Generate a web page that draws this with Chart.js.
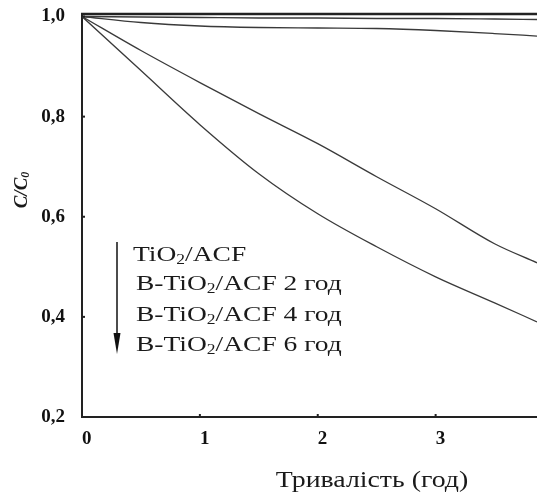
<!DOCTYPE html>
<html><head><meta charset="utf-8">
<script src="https://cdn.jsdelivr.net/npm/chart.js@4.4.1/dist/chart.umd.min.js"></script>
<style>html,body{margin:0;padding:0;background:#fff;} #wrap{position:relative;width:537px;height:495px;}</style>
</head><body><div id="wrap"><canvas id="c" width="537" height="495"></canvas></div>
<script>
// ---- data ----
const hours     = [0, 0.5, 1, 1.5, 2, 2.5, 3, 3.5, 3.86];
const tio2      = [1.0, 0.999, 0.998, 0.997, 0.997, 0.996, 0.996, 0.995, 0.994];
const bTio2_2h  = [1.0, 0.988, 0.981, 0.978, 0.977, 0.976, 0.972, 0.966, 0.961];
const bTio2_4h  = [1.0, 0.932, 0.868, 0.806, 0.746, 0.680, 0.616, 0.546, 0.508];
const bTio2_6h  = [1.0, 0.892, 0.784, 0.686, 0.606, 0.540, 0.480, 0.428, 0.390];
const seriesNames = ['TiO₂/ACF', 'B-TiO₂/ACF 2 год', 'B-TiO₂/ACF 4 год', 'B-TiO₂/ACF 6 год'];
const xTicks = [0, 1, 2, 3];
const xTickLabels = ['0', '1', '2', '3'];
const yTicks = [0.2, 0.4, 0.6, 0.8, 1.0];
const yTickLabels = ['0,2', '0,4', '0,6', '0,8', '1,0'];
const xTitle = 'Тривалість (год)';
const yTitle = 'C/C₀';

const SERIF = '"Liberation Serif", "Times New Roman", serif';
const SUBS = '₀₁₂₃₄₅₆₇₈₉';

function richParts(text) {
  const parts = [];
  for (const ch of text) {
    const sub = SUBS.indexOf(ch) >= 0;
    const c = sub ? String(SUBS.indexOf(ch)) : ch;
    if (parts.length && parts[parts.length - 1].sub === sub) parts[parts.length - 1].t += c;
    else parts.push({ t: c, sub });
  }
  return parts;
}
function drawRich(ctx, text, x, y, size, style, align, sx) {
  const parts = richParts(text);
  const fnt = (sub) => style + ' ' + (sub ? Math.round(size * 0.62) : size) + 'px ' + SERIF;
  let w = 0;
  parts.forEach(p => { ctx.font = fnt(p.sub); p.w = ctx.measureText(p.t).width; w += p.w; });
  ctx.save();
  ctx.translate(x, y);
  ctx.scale(sx, 1);
  let cx = align === 'center' ? -w / 2 : 0;
  ctx.textAlign = 'left';
  ctx.textBaseline = 'alphabetic';
  parts.forEach(p => {
    ctx.font = fnt(p.sub);
    ctx.fillText(p.t, cx, p.sub ? size * 0.12 : 0);
    cx += p.w;
  });
  ctx.restore();
}

const decor = {
  id: 'decor',
  afterDraw(chart) {
    const ctx = chart.ctx, a = chart.chartArea;
    const xs = chart.scales.x, ys = chart.scales.y;
    ctx.save();
    // top frame line
    ctx.strokeStyle = '#222'; ctx.lineWidth = 2.5;
    ctx.beginPath(); ctx.moveTo(a.left - 1, a.top); ctx.lineTo(a.right, a.top); ctx.stroke();
    // small inward ticks
    ctx.lineWidth = 2;
    yTicks.forEach(v => { if (v === ys.min) return; const py = ys.getPixelForValue(v);
      ctx.beginPath(); ctx.moveTo(a.left, py); ctx.lineTo(a.left + 3, py); ctx.stroke(); });
    xTicks.forEach(v => { if (v === xs.min) return; const px = xs.getPixelForValue(v);
      ctx.beginPath(); ctx.moveTo(px, a.bottom); ctx.lineTo(px, a.bottom - 3); ctx.stroke(); });
    // axis titles
    ctx.fillStyle = '#1a1a1a';
    drawRich(ctx, xTitle, 372, 487, 23, 'normal', 'center', 1.21);
    ctx.save();
    ctx.translate(27, 190); ctx.rotate(-Math.PI / 2);
    drawRich(ctx, yTitle, 0, 0, 19, 'italic bold', 'center', 1.0);
    ctx.restore();
    // legend arrow
    ctx.strokeStyle = '#111'; ctx.fillStyle = '#111'; ctx.lineWidth = 1.5;
    ctx.beginPath(); ctx.moveTo(117, 242); ctx.lineTo(117, 338); ctx.stroke();
    ctx.beginPath(); ctx.moveTo(113.5, 333); ctx.lineTo(120.5, 333); ctx.lineTo(117, 354); ctx.closePath(); ctx.fill();
    // legend labels
    const lx = [133, 136, 136, 136], ly = [261, 290, 321, 351];
    ctx.fillStyle = '#1a1a1a';
    seriesNames.forEach((n, i) => drawRich(ctx, n, lx[i], ly[i], 22, 'normal', 'left', 1.25));
    ctx.restore();
  }
};

const mk = arr => hours.map((h, i) => ({ x: h, y: arr[i] }));
const tickFont = { family: SERIF, size: 19, weight: 'bold' };

new Chart(document.getElementById('c'), {
  type: 'line',
  data: {
    datasets: [tio2, bTio2_2h, bTio2_4h, bTio2_6h].map((arr, i) => ({
      label: seriesNames[i], data: mk(arr), borderColor: '#3a3a3a', borderWidth: 1.3,
      pointRadius: 0, cubicInterpolationMode: 'monotone', fill: false
    }))
  },
  options: {
    responsive: false, animation: false,
    layout: { padding: { top: 14, right: 0, left: 0, bottom: 0 } },
    plugins: { legend: { display: false }, tooltip: { enabled: false } },
    scales: {
      x: {
        type: 'linear', min: 0, max: 3.86,
        afterBuildTicks: s => { s.ticks = xTicks.map(v => ({ value: v })); },
        afterFit: s => { s.height = 78; s.paddingLeft = 0; s.paddingRight = 0; },
        grid: { display: false, drawTicks: false },
        border: { display: true, color: '#222', width: 2 },
        ticks: { align: 'start', padding: 11, color: '#111', font: tickFont, maxRotation: 0,
          callback: (v, i) => xTickLabels[i] }
      },
      y: {
        type: 'linear', min: 0.2, max: 1.005,
        afterBuildTicks: s => { s.ticks = yTicks.map(v => ({ value: v })); },
        afterFit: s => { s.width = 82; s.paddingTop = 0; s.paddingBottom = 0; },
        grid: { display: false, drawTicks: false },
        border: { display: true, color: '#222', width: 2 },
        ticks: { padding: 17, color: '#111', font: tickFont, callback: (v, i) => yTickLabels[i] }
      }
    }
  },
  plugins: [decor]
});
</script></body></html>
